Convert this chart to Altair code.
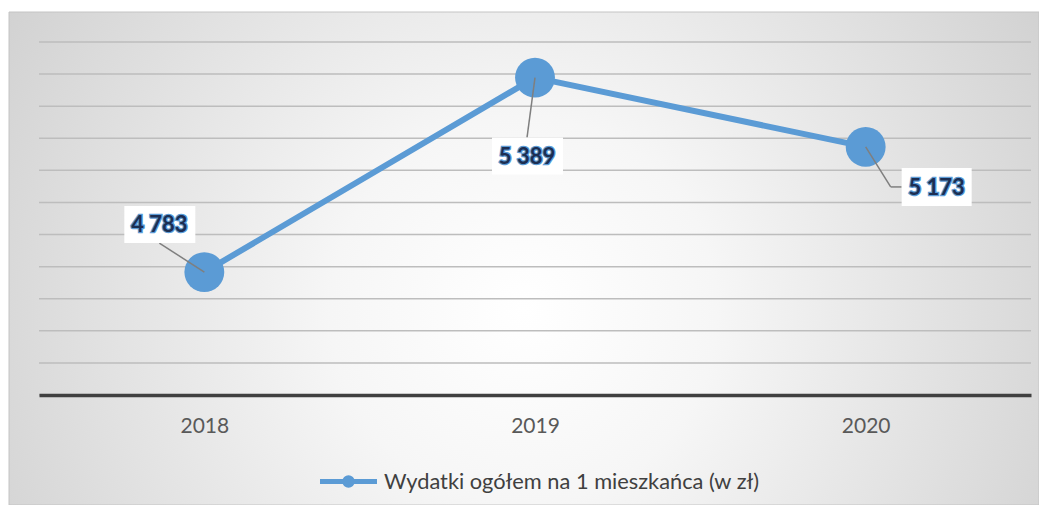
import altair as alt
import pandas as pd

years = ["2018", "2019", "2020"]
values = [4783, 5389, 5173]
series_name = "Wydatki ogółem na 1 mieszkańca (w zł)"
grid_values = [4400, 4500, 4600, 4700, 4800, 4900, 5000, 5100, 5200, 5300, 5400, 5500]

df = pd.DataFrame({"year": years, "value": values, "series": [series_name] * len(years)})
grid_df = pd.DataFrame({"g": grid_values})

BLUE = "#5B9BD5"
W, H = 992, 353

x_enc = alt.X("year:O", scale=alt.Scale(type="point", padding=0.5),
              axis=alt.Axis(title=None, labelAngle=0, ticks=False, grid=False,
                            domainColor="#404040", domainWidth=3.5, labelPadding=20,
                            labelFont="Lato", labelFontSize=21, labelColor="#595959",
                            zindex=1))
y_scale = alt.Scale(domain=[4400, 5500], nice=False, zero=False)
y_enc = alt.Y("value:Q", scale=y_scale, axis=None)

base = alt.Chart(df)

gradient = alt.RadialGradient(
    gradient="radial", x1=0.5, y1=0.55, r1=0, x2=0.5, y2=0.55, r2=0.75,
    stops=[alt.GradientStop(offset=0, color="#ffffff"),
           alt.GradientStop(offset=0.25, color="#f6f6f6"),
           alt.GradientStop(offset=1, color="#c2c2c2")])

bg = alt.Chart(pd.DataFrame({"a": [0]})).mark_rect(
    fill=gradient, stroke="#c4c4c4", strokeWidth=1
).encode(x=alt.value(-30), x2=alt.value(1000), y=alt.value(-30), y2=alt.value(463))

grid = alt.Chart(grid_df).mark_rule(color="#bdbdbd", strokeWidth=1.5).encode(
    y=alt.Y("g:Q", scale=y_scale, axis=None))

line = base.mark_line(strokeWidth=6).encode(
    x=x_enc, y=y_enc,
    color=alt.Color("series:N", scale=alt.Scale(range=[BLUE]),
                    legend=alt.Legend(
                        title=None, orient="none", legendX=278, legendY=408,
                        symbolType="M-1,0H1M-0.13,0A0.13,0.13,0,1,1,0.13,0A0.13,0.13,0,1,1,-0.13,0Z",
                        symbolSize=3250, symbolStrokeWidth=5, symbolFillColor=BLUE,
                        symbolStrokeColor=BLUE, labelOffset=4,
                        labelFont="Lato", labelFontSize=21.8, labelColor="#404040",
                        labelLimit=600)))

points = base.mark_circle(size=1590, opacity=1, color=BLUE).encode(x="year:O", y="value:Q")

# label placement (pixel offsets relative to each point): box, text, leader
place = {
    "2018": dict(box=(-80, -9, -66, -29), text=(-45, -47), lead=[(0, 0, -45, -29)]),
    "2019": dict(box=(-43, 28, 60, 97), text=(-8, 79), lead=[(0, 0, -8, 60)]),
    "2020": dict(box=(36, 106, 21, 59), text=(71, 41), lead=[(0, 0, 25, 40), (25, 40, 36, 40)]),
}

layers = [bg, grid, line, points]
labeled = base.transform_calculate(
    label="replace(format(datum.value, ',d'), ',', ' ')")

for yr, p in place.items():
    sel = labeled.transform_filter(alt.datum.year == yr)
    for (ax, ay, bx, by) in p["lead"]:
        layers.append(sel.mark_rule(color="#7f7f7f", strokeWidth=1.5,
                                    xOffset=ax, yOffset=ay, x2Offset=bx, y2Offset=by).encode(
            x="year:O", x2="year", y="value:Q", y2="value"))
    x0, x1, y0, y1 = p["box"]
    layers.append(sel.mark_rect(fill="white", xOffset=x0, x2Offset=x1,
                                yOffset=y0, y2Offset=y1).encode(
        x="year:O", x2="year", y="value:Q", y2="value"))
    dx, dy = p["text"]
    layers.append(sel.mark_text(font="Lato", fontSize=22, fontWeight="bold", dx=dx, dy=dy,
                                baseline="middle", align="center",
                                stroke=BLUE, strokeWidth=2.5, fill=BLUE).encode(
        x="year:O", y="value:Q", text="label:N"))
    layers.append(sel.mark_text(font="Lato", fontSize=22, fontWeight="bold", dx=dx, dy=dy,
                                baseline="middle", align="center",
                                fill="#1c2e52").encode(
        x="year:O", y="value:Q", text="label:N"))

chart = alt.layer(*layers).properties(
    width=W, height=H,
    autosize=alt.AutoSizeParams(type="none"),
    padding={"left": 31, "top": 34, "right": 8, "bottom": 110},
).configure_view(stroke=None)

chart.save("out.html", embed_options={"renderer": "svg", "actions": False})
